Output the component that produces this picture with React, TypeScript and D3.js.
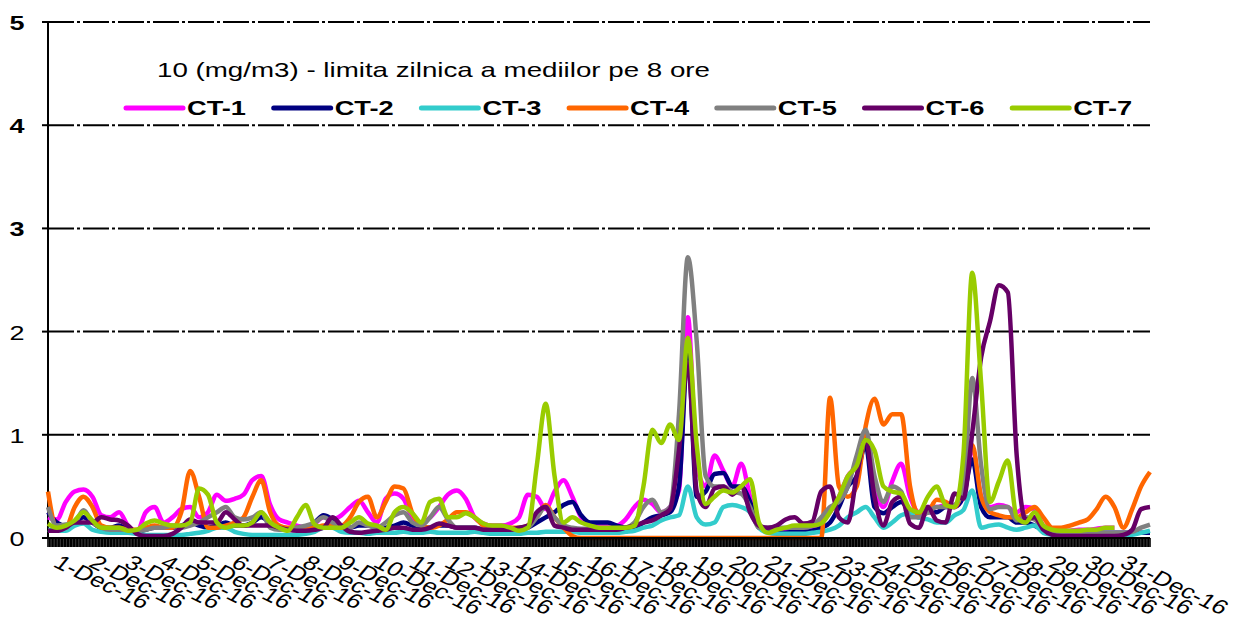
import React from 'react'
import * as d3 from 'd3'

// values every 6 hours, 1-Dec-16 00:00 .. 1-Jan-17 00:00 (mg/m3)
const seriesNames = ['CT-1', 'CT-2', 'CT-3', 'CT-4', 'CT-5', 'CT-6', 'CT-7']
const seriesColors = ['#ff00ff', '#000080', '#33cccc', '#ff6600', '#808080', '#660066', '#99cc00']

const dayLabels = [
  '1-Dec-16', '2-Dec-16', '3-Dec-16', '4-Dec-16', '5-Dec-16', '6-Dec-16', '7-Dec-16', '8-Dec-16',
  '9-Dec-16', '10-Dec-16', '11-Dec-16', '12-Dec-16', '13-Dec-16', '14-Dec-16', '15-Dec-16', '16-Dec-16',
  '17-Dec-16', '18-Dec-16', '19-Dec-16', '20-Dec-16', '21-Dec-16', '22-Dec-16', '23-Dec-16', '24-Dec-16',
  '25-Dec-16', '26-Dec-16', '27-Dec-16', '28-Dec-16', '29-Dec-16', '30-Dec-16', '31-Dec-16',
]
const yTicks = [0, 1, 2, 3, 4, 5]
const limitNote = '10 (mg/m3) - limita zilnica a mediilor pe 8 ore'

const ct1 = [
  0.2, 0.18, 0.35, 0.45, 0.47, 0.4, 0.22, 0.2, 0.25, 0.12,
  0.06, 0.25, 0.3, 0.15, 0.2, 0.28, 0.3, 0.2, 0.25, 0.42,
  0.36, 0.38, 0.42, 0.56, 0.6, 0.32, 0.18, 0.15, 0.12, 0.1,
  0.14, 0.2, 0.18, 0.22, 0.3, 0.36, 0.25, 0.15, 0.38, 0.43,
  0.38, 0.2, 0.15, 0.2, 0.3, 0.42, 0.46, 0.38, 0.2, 0.14,
  0.12, 0.12, 0.14, 0.2, 0.42, 0.4, 0.28, 0.45, 0.56, 0.4,
  0.2, 0.14, 0.12, 0.12, 0.12, 0.18, 0.3, 0.37, 0.33, 0.25,
  0.3, 0.46, 2.14, 0.7, 0.5, 0.8, 0.65, 0.5, 0.72, 0.4,
  0.12, 0.06, 0.05, 0.06, 0.1, 0.08, 0.1, 0.15, 0.25, 0.4,
  0.6, 0.7, 0.9, 0.5, 0.3, 0.55, 0.72, 0.4, 0.25, 0.3,
  0.3, 0.32, 0.3, 0.4, 0.88, 0.4, 0.3, 0.32, 0.3, 0.25,
  0.3, 0.28, 0.12, 0.08, 0.07, 0.07, 0.08, 0.08, 0.09, 0.1,
  0.1, null, null, null, null,
]
const ct2 = [
  0.25, 0.15, 0.12, 0.15, 0.2, 0.15, 0.1, 0.1, 0.12, 0.08,
  0.06, 0.08, 0.1, 0.1, 0.1, 0.12, 0.15, 0.12, 0.1, 0.12,
  0.15, 0.12, 0.12, 0.15, 0.2, 0.15, 0.1, 0.08, 0.08, 0.1,
  0.15, 0.22, 0.18, 0.12, 0.1, 0.12, 0.12, 0.1, 0.1, 0.12,
  0.15, 0.12, 0.1, 0.1, 0.12, 0.12, 0.1, 0.1, 0.1, 0.08,
  0.1, 0.1, 0.08, 0.08, 0.1, 0.15, 0.2, 0.25, 0.32, 0.35,
  0.22, 0.15, 0.15, 0.15, 0.12, 0.1, 0.1, 0.15, 0.2, 0.22,
  0.25, 0.5, 1.8, 0.4, 0.45, 0.62, 0.63, 0.5, 0.5, 0.35,
  0.1, 0.06, 0.05, 0.05, 0.06, 0.06, 0.07, 0.1, 0.15, 0.3,
  0.5, 0.6, 0.9, 0.3, 0.24, 0.3, 0.35, 0.25, 0.2, 0.25,
  0.25, 0.3, 0.3, 0.4, 0.76, 0.3, 0.2, 0.2, 0.2, 0.15,
  0.15, 0.12, 0.08, 0.06, 0.05, 0.05, 0.05, 0.05, 0.05, 0.05,
  0.05, 0.05, 0.05, 0.05, 0.05,
]
const ct3 = [
  0.08, 0.07, 0.07, 0.12, 0.14, 0.08, 0.06, 0.05, 0.05, 0.05,
  0.04, 0.03, 0.03, 0.03, 0.03, 0.03, 0.04, 0.05, 0.07, 0.1,
  0.1, 0.06, 0.04, 0.03, 0.03, 0.03, 0.03, 0.03, 0.03, 0.04,
  0.06, 0.1, 0.1, 0.06, 0.05, 0.05, 0.04, 0.05, 0.05, 0.05,
  0.06, 0.05, 0.05, 0.06, 0.05, 0.05, 0.05, 0.05, 0.06, 0.05,
  0.04, 0.04, 0.04, 0.04, 0.05, 0.05, 0.06, 0.06, 0.06, 0.06,
  0.05, 0.05, 0.05, 0.05, 0.05, 0.06, 0.07, 0.1, 0.12, 0.17,
  0.2, 0.22, 0.5, 0.2, 0.13, 0.15, 0.3, 0.32, 0.3, 0.25,
  0.1, 0.05, 0.04, 0.04, 0.04, 0.04, 0.05, 0.06, 0.08, 0.12,
  0.2, 0.25, 0.3, 0.2, 0.1, 0.15, 0.22, 0.24, 0.2, 0.18,
  0.15, 0.15, 0.22, 0.27, 0.46, 0.1, 0.12, 0.13, 0.1, 0.08,
  0.1, 0.12, 0.05, 0.03, 0.02, 0.02, 0.02, 0.02, 0.02, 0.02,
  0.02, 0.02, 0.03, 0.05, 0.07,
]
const ct4 = [
  0.45, 0.1, 0.1, 0.3, 0.4, 0.3, 0.12, 0.1, 0.1, 0.08,
  0.08, 0.1, 0.12, 0.1, 0.1, 0.25, 0.65, 0.4, 0.1, 0.1,
  0.12, 0.15, 0.2, 0.4, 0.56, 0.25, 0.12, 0.1, 0.1, 0.1,
  0.1, 0.12, 0.12, 0.12, 0.2, 0.35, 0.4, 0.2, 0.35, 0.5,
  0.48, 0.24, 0.12, 0.1, 0.12, 0.18, 0.25, 0.25, 0.2, 0.12,
  0.1, 0.1, 0.1, 0.1, 0.12, 0.2, 0.32, 0.2, 0.1, 0.02,
  0, 0, 0, 0, 0, 0, 0, 0, 0, 0,
  0, 0, 0, 0, 0, 0, 0, 0, 0, 0,
  0, 0, 0, 0, 0, 0, 0, 0, 1.36, 0.5,
  0.4, 0.5, 1.08, 1.35, 1.1, 1.2, 1.2, 0.5, 0.22, 0.25,
  0.37, 0.35, 0.3, 0.5, 0.9, 0.4, 0.25, 0.22, 0.2, 0.2,
  0.25, 0.3, 0.2, 0.1, 0.1, 0.12, 0.15, 0.18, 0.28, 0.4,
  0.3, 0.1, 0.28, 0.5, 0.64,
]
const ct5 = [
  0.3, 0.12, 0.13, 0.15, 0.27, 0.15, 0.1, 0.08, 0.08, 0.08,
  0.07, 0.08, 0.1, 0.1, 0.12, 0.1, 0.12, 0.15, 0.2, 0.25,
  0.3, 0.2, 0.18, 0.2, 0.25, 0.1, 0.08, 0.08, 0.1, 0.12,
  0.15, 0.2, 0.15, 0.12, 0.1, 0.15, 0.12, 0.1, 0.15, 0.22,
  0.25, 0.15, 0.12, 0.2, 0.3, 0.18, 0.1, 0.1, 0.1, 0.08,
  0.08, 0.08, 0.08, 0.08, 0.1, 0.2, 0.3, 0.2, 0.12, 0.1,
  0.09, 0.09, 0.09, 0.09, 0.09, 0.1, 0.15, 0.3, 0.37, 0.25,
  0.3, 1.2, 2.72, 1.9, 0.6, 0.5, 0.5, 0.45, 0.43, 0.3,
  0.1, 0.1, 0.1, 0.1, 0.1, 0.1, 0.12, 0.2, 0.3, 0.35,
  0.5, 0.8, 1.05, 0.6, 0.35, 0.5, 0.45, 0.2, 0.2, 0.25,
  0.3, 0.3, 0.32, 0.48, 1.55, 0.7, 0.28, 0.3, 0.3, 0.17,
  0.2, 0.18, 0.1, 0.06, 0.05, 0.05, 0.05, 0.05, 0.05, 0.05,
  0.05, 0.05, 0.06, 0.1, 0.13,
]
const ct6 = [
  0.07, 0.07, 0.1, 0.15, 0.15, 0.15, 0.2, 0.18, 0.17, 0.12,
  0.04, 0.02, 0.02, 0.02, 0.04, 0.1, 0.18, 0.15, 0.15, 0.15,
  0.25, 0.18, 0.12, 0.12, 0.12, 0.12, 0.1, 0.08, 0.07, 0.07,
  0.08, 0.1, 0.2, 0.12, 0.06, 0.05, 0.06, 0.07, 0.08, 0.1,
  0.1, 0.08, 0.08, 0.1, 0.14, 0.12, 0.1, 0.1, 0.1, 0.08,
  0.08, 0.08, 0.08, 0.1, 0.12, 0.25, 0.3, 0.12, 0.1, 0.08,
  0.08, 0.08, 0.08, 0.08, 0.08, 0.1, 0.12, 0.15, 0.17, 0.22,
  0.28, 0.85, 1.7, 0.45, 0.3, 0.48, 0.5, 0.42, 0.5, 0.25,
  0.12, 0.1, 0.12, 0.18, 0.2, 0.14, 0.16, 0.45, 0.5, 0.2,
  0.15, 0.6, 0.95, 0.4, 0.12, 0.35, 0.4, 0.14, 0.1, 0.3,
  0.17, 0.15, 0.43, 0.38, 1.02, 1.75, 2.1, 2.45, 2.38, 0.8,
  0.18, 0.2, 0.08, 0.03, 0.02, 0.02, 0.02, 0.02, 0.02, 0.02,
  0.02, 0.03, 0.08, 0.28, 0.3,
]
const ct7 = [
  0.14, 0.1, 0.12, 0.17, 0.25, 0.17, 0.1, 0.1, 0.1, 0.07,
  0.08, 0.14, 0.17, 0.14, 0.12, 0.12, 0.15, 0.48, 0.42, 0.15,
  0.1, 0.12, 0.12, 0.15, 0.25, 0.15, 0.1, 0.07, 0.2, 0.32,
  0.13, 0.1, 0.1, 0.1, 0.15, 0.2, 0.14, 0.12, 0.08, 0.25,
  0.3, 0.24, 0.15, 0.35, 0.38, 0.2, 0.2, 0.24, 0.2, 0.14,
  0.12, 0.12, 0.1, 0.07, 0.1, 0.7, 1.3, 0.6, 0.15, 0.2,
  0.15, 0.12, 0.1, 0.1, 0.1, 0.1, 0.12, 0.5, 1.05, 0.92,
  1.1, 0.95, 1.94, 0.9, 0.33, 0.4, 0.46, 0.44, 0.5, 0.57,
  0.15, 0.05, 0.08, 0.1, 0.12, 0.12, 0.12, 0.14, 0.25, 0.4,
  0.6, 0.7, 0.95, 0.85, 0.5, 0.45, 0.43, 0.28, 0.25, 0.4,
  0.5, 0.32, 0.3, 0.8, 2.57, 1.5, 0.35, 0.55, 0.75, 0.2,
  0.15, 0.25, 0.12, 0.08, 0.07, 0.07, 0.07, 0.08, 0.08, 0.1,
  0.1, null, null, null, null,
]
const seriesValues = [ct1, ct2, ct3, ct4, ct5, ct6, ct7]

const STEPS_PER_DAY = 4
const FONT = 'Liberation Sans, Arial, sans-serif'

export default function App() {
  const width = 1235
  const height = 622
  const margin = { top: 22, right: 85, bottom: 84, left: 48 }

  const x = d3.scaleLinear()
    .domain([0, dayLabels.length])
    .range([margin.left, width - margin.right])
  const y = d3.scaleLinear()
    .domain([0, 5])
    .range([height - margin.bottom, margin.top])

  const line = d3.line<number | null>()
    .defined(d => d != null)
    .x((_, i) => x(i / STEPS_PER_DAY))
    .y(d => y(d as number))
    .curve(d3.curveMonotoneX)

  // hourly tick marks along the category axis (they merge into a black band)
  const hourTicks = d3.range(0, dayLabels.length * 24 + 1).map(h => h / 24)
  const y0 = y(0)

  return (
    <svg width={width} height={height} style={{ position: 'absolute', left: 0, top: 0, background: '#fff' }}
      fontFamily={FONT}>
      {/* gridlines */}
      {yTicks.filter(t => t > 0).map(t => (
        <line key={'g' + t} x1={x(0)} x2={x(dayLabels.length)} y1={y(t)} y2={y(t)}
          stroke="#000" strokeWidth={2} strokeDasharray="26,3,3,3" />
      ))}

      {/* y axis */}
      <line x1={x(0)} x2={x(0)} y1={y(5)} y2={y0} stroke="#000" strokeWidth={2} />
      {yTicks.map(t => (
        <g key={'y' + t}>
          <line x1={x(0) - 6} x2={x(0)} y1={y(t)} y2={y(t)} stroke="#000" strokeWidth={2} />
          <text x={17} y={y(t) + 8} textAnchor="middle" fontSize={20} fontWeight={t >= 3 ? 'bold' : 'normal'}
            textLength={15} lengthAdjust="spacingAndGlyphs">{t}</text>
        </g>
      ))}

      {/* note and legend */}
      <text x={157} y={77} fontSize={21} textLength={553} lengthAdjust="spacingAndGlyphs">{limitNote}</text>
      {seriesNames.map((name, i) => {
        const lx = 126 + i * 147.7
        return (
          <g key={name}>
            <line x1={lx} x2={lx + 57} y1={108} y2={108} stroke={seriesColors[i]} strokeWidth={5}
              strokeLinecap="round" />
            <text x={lx + 61} y={115} fontSize={20} fontWeight="bold" textLength={59}
              lengthAdjust="spacingAndGlyphs">{name}</text>
          </g>
        )
      })}

      {/* series */}
      {seriesValues.map((vals, i) => (
        <path key={seriesNames[i]} d={line(vals) || ''} fill="none" stroke={seriesColors[i]}
          strokeWidth={4.5} strokeLinejoin="round" />
      ))}

      {/* x axis */}
      <line x1={x(0)} x2={x(dayLabels.length)} y1={y0} y2={y0} stroke="#000" strokeWidth={2} />
      {hourTicks.map((h, i) => (
        <line key={'h' + i} x1={x(h)} x2={x(h)} y1={y0} y2={y0 + 9} stroke="#000" strokeWidth={1.6} />
      ))}
      {dayLabels.map((lab, i) => (
        <text key={lab} fontSize={20}
          transform={`translate(${x(i) + 4},${y0 + 28}) scale(1.3,1) rotate(32)`}>{lab}</text>
      ))}
    </svg>
  )
}
